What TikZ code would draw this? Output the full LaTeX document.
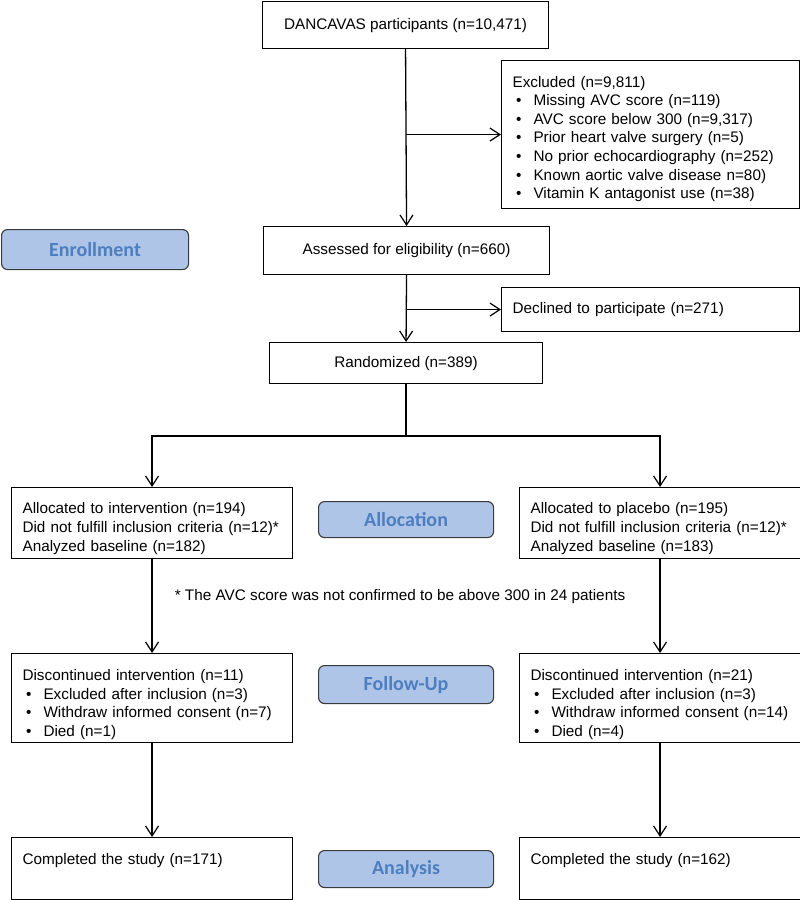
\documentclass[tikz,border=0pt]{standalone}
\usepackage{fontspec}
\setmainfont{Liberation Sans}
\newfontfamily\labfont{Carlito}
\usetikzlibrary{arrows.meta,calc}
\definecolor{labfill}{HTML}{AEC5E8}
\definecolor{labtext}{HTML}{4D7EBF}
\definecolor{labdraw}{HTML}{3A3A3A}
\begin{document}
\begin{tikzpicture}[x=1pt,y=-1pt,
  box/.style={draw=black, line width=1.1pt, fill=white, inner xsep=11pt, inner ysep=0pt,
    font=\fontsize{15.3}{18.6}\selectfont, anchor=north west},
  cbox/.style={box, align=center},
  lbox/.style={box, align=left},
  phase/.style={draw=labdraw, line width=1.1pt, fill=labfill, rounded corners=6pt,
    text=labtext, font=\labfont\bfseries\fontsize{20}{22}\selectfont, inner sep=0pt, anchor=north west},
  link/.style={line width=1.3pt},
  arr/.style={link, -{Straight Barb[length=10pt,width=13pt,line width=1.2pt]}}]
\useasboundingbox (0,0) rectangle (800,900);
\newcommand{\bitem}[1]{\hspace*{3.5pt}\makebox[17.5pt][l]{\textbullet}#1}
\newcommand{\lift}[1]{\rule{0pt}{#1}}

% top column
\node[cbox, minimum width=286pt, minimum height=47pt] (top) at (262,1) {DANCAVAS participants (n=10,471)};
\node[lbox, text width=276pt, minimum height=148pt] (excl) at (501,60) {\lift{20pt}Excluded (n=9,811)\\
\bitem{Missing AVC score (n=119)}\\
\bitem{AVC score below 300 (n=9,317)}\\
\bitem{Prior heart valve surgery (n=5)}\\
\bitem{No prior echocardiography (n=252)}\\
\bitem{Known aortic valve disease n=80)}\\
\bitem{Vitamin K antagonist use (n=38)}};
\node[cbox, minimum width=286pt, minimum height=48pt] (assess) at (263,226) {Assessed for eligibility (n=660)};
\node[lbox, text width=276pt, minimum height=44pt] (decl) at (501,287) {Declined to participate (n=271)};
\node[cbox, minimum width=273pt, minimum height=41pt] (rand) at (269,342) {Randomized (n=389)};

% phase labels
\node[phase, minimum width=187pt, minimum height=40pt] (enr) at (1,229) {Enrollment};
\node[phase, minimum width=175pt, minimum height=36pt] (alloc) at (318,501) {Allocation};
\node[phase, minimum width=175pt, minimum height=38pt] (fup) at (318,665) {Follow-Up};
\node[phase, minimum width=175pt, minimum height=37pt] (ana) at (318,850) {Analysis};

% allocation
\node[lbox, text width=259pt, minimum height=71pt] (al) at (11,487) {\lift{22pt}Allocated to intervention (n=194)\\
Did not fulfill inclusion criteria (n=12)*\\
Analyzed baseline (n=182)};
\node[lbox, text width=259pt, minimum height=71pt] (ar) at (519,487) {\lift{22pt}Allocated to placebo (n=195)\\
Did not fulfill inclusion criteria (n=12)*\\
Analyzed baseline (n=183)};

\node[font=\fontsize{15.3}{18.6}\selectfont, inner sep=0pt] (note) at (400,597) {* The AVC score was not confirmed to be above 300 in 24 patients};

% follow-up
\node[lbox, text width=259pt, minimum height=89pt] (fl) at (11,653) {\lift{24pt}Discontinued intervention (n=11)\\
\bitem{Excluded after inclusion (n=3)}\\
\bitem{Withdraw informed consent (n=7)}\\
\bitem{Died (n=1)}};
\node[lbox, text width=259pt, minimum height=89pt] (fr) at (519,653) {\lift{24pt}Discontinued intervention (n=21)\\
\bitem{Excluded after inclusion (n=3)}\\
\bitem{Withdraw informed consent (n=14)}\\
\bitem{Died (n=4)}};

% analysis
\node[lbox, text width=259pt, minimum height=62pt] (cl) at (11,837) {Completed the study (n=171)\\\mbox{}};
\node[lbox, text width=259pt, minimum height=62pt] (cr) at (519,837) {Completed the study (n=162)\\\mbox{}};

% connectors
\draw[arr] (top.south) -- (assess.north);
\draw[arr] (top.south |- excl.west) -- (excl.west);
\draw[arr] (assess.south) -- (rand.north);
\draw[arr] (assess.south |- decl.west) -- (decl.west);
\coordinate (split) at ($(rand.south)+(0,52)$);
\draw[link] (rand.south) -- (split);
\draw[arr] (split) -| (al.north);
\draw[arr] (split) -| (ar.north);
\draw[arr] (al.south) -- (fl.north);
\draw[arr] (ar.south) -- (fr.north);
\draw[arr] (fl.south) -- (cl.north);
\draw[arr] (fr.south) -- (cr.north);
\end{tikzpicture}
\end{document}
